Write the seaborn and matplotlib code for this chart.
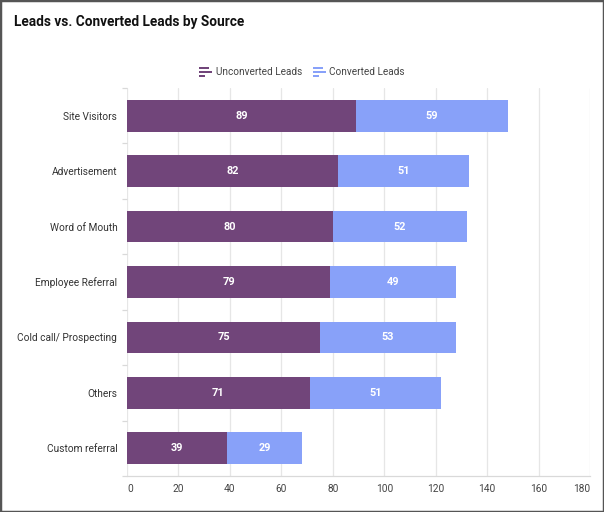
import matplotlib
matplotlib.use("Agg")
import matplotlib.pyplot as plt
import matplotlib.patches as mpatches
from matplotlib.legend_handler import HandlerBase
import seaborn as sns
import pandas as pd

sources = ["Site Visitors", "Advertisement", "Word of Mouth", "Employee Referral",
           "Cold call/ Prospecting", "Others", "Custom referral"]
unconverted = [89, 82, 80, 79, 75, 71, 39]
converted = [59, 51, 52, 49, 53, 51, 29]
x_ticks = [0, 20, 40, 60, 80, 100, 120, 140, 160, 180]

purple = "#71457A"
blue = "#88A1F9"

sns.set_theme(style="white")
plt.rcParams['font.family'] = ['Roboto', 'DejaVu Sans']

df = pd.DataFrame({"source": sources, "unconverted": unconverted, "converted": converted})
df["total"] = df["unconverted"] + df["converted"]

fig = plt.figure(figsize=(6.04, 5.12), dpi=100)
ax = fig.add_axes([127/604, 1-476/512, 463/604, 388/512])

sns.barplot(data=df, y="source", x="total", color=blue, orient="h", width=0.57,
            ax=ax, saturation=1, linewidth=0)
sns.barplot(data=df, y="source", x="unconverted", color=purple, orient="h", width=0.57,
            ax=ax, saturation=1, linewidth=0)

for i, (u, c) in enumerate(zip(unconverted, converted)):
    ax.text(u/2, i, str(u), ha="center", va="center", color="white", fontsize=7.8,
            fontweight="bold")
    ax.text(u + c/2, i, str(c), ha="center", va="center", color="white", fontsize=7.8,
            fontweight="bold")

ax.set_xlim(0, 180)
ax.set_xticks(x_ticks)
ax.set_ylim(len(sources)-0.5, -0.5)
ax.set_xlabel("")
ax.set_ylabel("")
ax.xaxis.grid(True, color="#E6E6E6", linewidth=0.9)
ax.set_axisbelow(True)
for s in ["top", "right", "left"]:
    ax.spines[s].set_visible(False)
ax.spines["bottom"].set_color("#D9D9D9")
ax.spines["bottom"].set_linewidth(0.9)
ax.tick_params(axis="x", length=0, pad=6, labelsize=7.3, colors="#444444")
ax.tick_params(axis="y", length=0, pad=7, labelsize=7.3, colors="#333333")
xl = ax.get_xticklabels()
xl[0].set_ha("left")
xl[-1].set_ha("right")

# category boundary ticks on the left
for b in [i + 0.5 for i in range(-1, len(sources))]:
    ax.plot([-0.011, 0], [b, b], transform=ax.get_yaxis_transform(), color="#D9D9D9",
            linewidth=0.9, clip_on=False, solid_capstyle="butt")

class BarsIcon(HandlerBase):
    def create_artists(self, legend, orig_handle, xdescent, ydescent, width, height, fontsize, trans):
        col = orig_handle.get_facecolor()
        bh = height * 0.24
        gap = (height - 3 * bh) / 2
        arts = []
        for k, frac in enumerate([0.75, 1.0, 0.45]):
            y = -ydescent + height - (k + 1) * bh - k * gap
            r = mpatches.Rectangle((-xdescent, y), width * frac, bh, facecolor=col,
                                   edgecolor="none", transform=trans)
            arts.append(r)
        return arts

h1 = mpatches.Patch(color=purple, label="Unconverted Leads")
h2 = mpatches.Patch(color=blue, label="Converted Leads")
fig.legend(handles=[h1, h2], loc="center", bbox_to_anchor=(0.5, 1-72/512), ncol=2,
           frameon=False, fontsize=7.2, handler_map={mpatches.Patch: BarsIcon()},
           handlelength=1.3, handleheight=1.2, handletextpad=0.35, columnspacing=1.1,
           labelcolor="#444444")

fig.text(14/604, 1-22/512, "Leads vs. Converted Leads by Source", fontsize=9.8,
         fontweight="bold", ha="left", va="center", color="#111111")

fig.patches.append(mpatches.Rectangle((0, 0), 1, 1, transform=fig.transFigure,
                                      fill=False, edgecolor="#555555", linewidth=2.5))

fig.savefig("out.png", dpi=100)
